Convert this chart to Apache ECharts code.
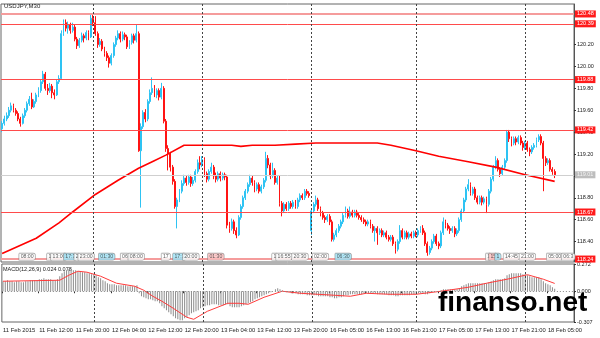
<!DOCTYPE html>
<html><head><meta charset="utf-8">
<script src="https://cdn.jsdelivr.net/npm/echarts@6/dist/echarts.min.js"></script>
<style>html,body{margin:0;padding:0;background:#fff}#c{width:600px;height:338px}</style>
</head><body><div id="c"></div>
<script>
// ---- DATA ----
// candles: [open, close, low, high], USDJPY M30 from 11 Feb 04:00
const candles = [
[119.43,119.48,119.40,119.50],[119.48,119.52,119.46,119.55],[119.52,119.55,119.50,119.58],[119.55,119.60,119.53,119.63],
[119.60,119.64,119.58,119.67],[119.64,119.60,119.58,119.66],[119.60,119.57,119.55,119.62],[119.57,119.52,119.50,119.59],
[119.52,119.48,119.45,119.54],[119.48,119.55,119.47,119.57],[119.55,119.60,119.53,119.62],[119.60,119.66,119.58,119.68],
[119.66,119.70,119.64,119.73],[119.70,119.63,119.61,119.76],[119.63,119.68,119.62,119.70],[119.68,119.74,119.66,119.76],
[119.74,119.78,119.72,119.81],[119.78,119.86,119.76,119.88],[119.86,119.93,119.84,119.96],[119.93,119.80,119.78,119.95],
[119.80,119.78,119.74,119.84],[119.78,119.82,119.76,119.85],[119.82,119.76,119.71,119.84],[119.76,119.74,119.70,119.79],
[119.74,119.86,119.73,119.88],[119.86,119.89,119.84,119.92],[119.89,120.30,119.88,120.33],[120.30,120.40,120.28,120.43],
[120.40,120.35,120.32,120.43],[120.35,120.38,120.30,120.41],[120.38,120.33,120.30,120.40],[120.33,120.36,120.31,120.40],
[120.36,120.25,120.23,120.38],[120.25,120.19,120.16,120.27],[120.19,120.24,120.17,120.26],[120.24,120.28,120.22,120.31],
[120.28,120.26,120.22,120.30],[120.26,120.31,120.24,120.33],[120.31,120.27,120.24,120.33],[120.27,120.44,120.26,120.48],
[120.44,120.40,120.37,120.48],[120.40,120.30,120.28,120.46],[120.30,120.20,120.17,120.32],[120.20,120.23,120.18,120.26],
[120.23,120.16,120.14,120.25],[120.16,120.12,120.09,120.18],[120.12,120.08,120.05,120.14],[120.08,120.03,119.99,120.10],
[120.03,120.10,120.01,120.12],[120.10,120.20,120.08,120.22],[120.20,120.26,120.18,120.28],[120.26,120.30,120.24,120.33],
[120.30,120.25,120.22,120.32],[120.25,120.29,120.23,120.32],[120.29,120.27,120.24,120.31],[120.27,120.18,120.16,120.29],
[120.18,120.22,120.16,120.24],[120.22,120.28,120.20,120.30],[120.28,120.24,120.21,120.30],[120.24,120.30,120.22,120.38],
[120.30,119.23,119.22,120.32],[119.23,119.45,118.71,119.48],[119.45,119.58,119.43,119.60],[119.58,119.52,119.49,119.61],
[119.52,119.68,119.50,119.70],[119.68,119.76,119.66,119.79],[119.76,119.80,119.74,119.90],[119.80,119.74,119.72,119.83],
[119.74,119.78,119.71,119.80],[119.78,119.72,119.69,119.80],[119.72,119.80,119.70,119.85],[119.80,119.50,119.48,119.82],
[119.50,119.25,119.22,119.52],[119.25,119.20,119.05,119.28],[119.20,119.08,119.04,119.22],[119.08,118.95,118.92,119.10],
[118.95,118.72,118.70,118.97],[118.72,118.78,118.52,118.80],[118.78,118.86,118.76,118.88],[118.86,118.93,118.84,118.96],
[118.93,118.98,118.91,119.01],[118.98,118.94,118.91,119.00],[118.94,118.99,118.92,119.01],[118.99,118.93,118.90,119.01],
[118.93,118.96,118.91,118.99],[118.96,119.04,118.94,119.06],[119.04,119.12,119.02,119.15],[119.12,119.10,119.06,119.18],
[119.10,119.15,119.08,119.18],[119.15,119.02,118.99,119.17],[119.02,118.97,118.94,119.04],[118.97,119.04,118.95,119.06],
[119.04,119.08,119.02,119.12],[119.08,119.00,118.97,119.10],[119.00,118.97,118.94,119.03],[118.97,119.02,118.95,119.04],
[119.02,118.98,118.95,119.04],[118.98,119.01,118.96,119.03],[119.01,118.99,118.96,119.03],[118.99,118.55,118.52,119.01],
[118.55,118.52,118.48,118.58],[118.52,118.58,118.50,118.61],[118.58,118.50,118.47,118.60],[118.50,118.46,118.43,118.53],
[118.46,118.62,118.45,118.64],[118.62,118.72,118.60,118.74],[118.72,118.80,118.70,118.82],[118.80,118.86,118.78,118.88],
[118.86,118.92,118.84,118.94],[118.92,118.98,118.90,119.01],[118.98,118.94,118.91,119.00],[118.94,118.88,118.85,118.96],
[118.88,118.92,118.86,118.94],[118.92,118.86,118.84,118.94],[118.86,118.90,118.84,118.92],[118.90,118.96,118.88,118.98],
[118.96,119.16,118.94,119.22],[119.16,119.10,119.07,119.19],[119.10,119.00,118.97,119.12],[119.00,119.05,118.98,119.12],
[119.05,118.94,118.92,119.07],[118.94,118.98,118.92,119.00],[118.98,118.75,118.72,119.00],[118.75,118.68,118.63,118.77],
[118.68,118.74,118.66,118.76],[118.74,118.70,118.68,118.76],[118.70,118.75,118.68,118.77],[118.75,118.72,118.70,118.77],
[118.72,118.76,118.70,118.78],[118.76,118.72,118.70,118.78],[118.72,118.78,118.70,118.80],[118.78,118.82,118.76,118.84],
[118.82,118.80,118.78,118.84],[118.80,118.86,118.78,118.88],[118.86,118.84,118.82,118.88],[118.84,118.82,118.80,118.86],
[118.50,118.68,118.46,118.70],[118.68,118.74,118.66,118.76],[118.74,118.78,118.72,118.82],[118.78,118.70,118.68,118.80],
[118.70,118.66,118.63,118.72],[118.66,118.62,118.60,118.68],[118.62,118.60,118.57,118.64],[118.60,118.63,118.58,118.65],
[118.63,118.58,118.55,118.65],[118.58,118.42,118.40,118.60],[118.42,118.46,118.40,118.48],[118.46,118.50,118.44,118.52],
[118.50,118.54,118.48,118.56],[118.54,118.58,118.52,118.60],[118.58,118.64,118.56,118.66],[118.64,118.68,118.62,118.72],
[118.68,118.63,118.61,118.70],[118.63,118.67,118.61,118.72],[118.67,118.64,118.62,118.69],[118.64,118.67,118.62,118.69],
[118.67,118.64,118.62,118.69],[118.64,118.62,118.60,118.66],[118.62,118.60,118.58,118.64],[118.60,118.58,118.56,118.62],
[118.58,118.56,118.54,118.60],[118.56,118.58,118.54,118.60],[118.58,118.54,118.52,118.60],[118.54,118.50,118.48,118.56],
[118.50,118.52,118.40,118.54],[118.52,118.48,118.37,118.54],[118.48,118.50,118.46,118.52],[118.50,118.46,118.44,118.52],
[118.46,118.48,118.44,118.50],[118.48,118.44,118.42,118.50],[118.44,118.42,118.40,118.46],[118.42,118.44,118.40,118.46],
[118.44,118.38,118.36,118.46],[118.38,118.33,118.29,118.40],[118.33,118.40,118.31,118.42],[118.40,118.50,118.38,118.55],
[118.50,118.44,118.42,118.52],[118.44,118.48,118.42,118.50],[118.48,118.44,118.42,118.50],[118.44,118.47,118.42,118.49],
[118.47,118.45,118.43,118.49],[118.45,118.48,118.43,118.50],[118.48,118.46,118.44,118.50],[118.46,118.50,118.44,118.52],
[118.50,118.52,118.48,118.54],[118.52,118.48,118.46,118.55],[118.48,118.38,118.36,118.50],[118.38,118.30,118.27,118.40],
[118.30,118.34,118.28,118.36],[118.34,118.40,118.32,118.42],[118.40,118.45,118.38,118.47],[118.45,118.38,118.36,118.47],
[118.38,118.36,118.33,118.40],[118.36,118.48,118.34,118.50],[118.48,118.58,118.46,118.62],[118.58,118.55,118.52,118.60],
[118.55,118.52,118.50,118.57],[118.52,118.50,118.47,118.54],[118.50,118.52,118.48,118.54],[118.52,118.47,118.44,118.54],
[118.47,118.50,118.45,118.52],[118.50,118.60,118.48,118.62],[118.60,118.68,118.58,118.70],[118.68,118.78,118.66,118.80],
[118.78,118.88,118.76,118.90],[118.88,118.92,118.86,118.97],[118.92,118.84,118.82,118.94],[118.84,118.88,118.82,118.90],
[118.88,118.80,118.78,118.90],[118.80,118.76,118.74,118.82],[118.76,118.80,118.74,118.82],[118.80,118.76,118.73,118.82],
[118.76,118.79,118.74,118.81],[118.79,118.74,118.66,118.81],[118.74,118.86,118.72,118.88],[118.86,118.97,118.84,118.99],
[118.97,119.08,118.95,119.10],[119.08,119.14,119.06,119.18],[119.14,119.06,119.04,119.16],[119.06,119.02,118.99,119.08],
[119.02,119.08,119.00,119.10],[119.08,119.14,119.06,119.16],[119.14,119.40,119.12,119.42],[119.40,119.34,119.31,119.42],
[119.34,119.30,119.27,119.36],[119.30,119.34,119.28,119.36],[119.34,119.31,119.28,119.36],[119.31,119.35,119.29,119.37],
[119.35,119.30,119.28,119.37],[119.30,119.26,119.23,119.32],[119.26,119.30,119.24,119.32],[119.30,119.24,119.22,119.32],
[119.24,119.22,119.18,119.26],[119.22,119.26,119.20,119.28],[119.26,119.28,119.24,119.30],[119.28,119.33,119.26,119.35],
[119.33,119.36,119.31,119.38],[119.36,119.30,119.28,119.38],[119.30,119.16,118.86,119.32],[119.16,119.12,119.09,119.18],
[119.12,119.14,119.10,119.16],[119.14,119.06,119.04,119.16],[119.06,119.04,119.01,119.08],[119.04,119.01,118.98,119.06]
];
// moving average (red) read at bar indices
const maIdx = [0,15,25,31,41,51,60,66,72,80,90,101,105,110,120,129,138,154,165,171,182,192,205,217,230,243];
const maVal = [118.29,118.43,118.57,118.67,118.83,118.96,119.07,119.13,119.19,119.28,119.28,119.28,119.27,119.28,119.28,119.29,119.30,119.30,119.30,119.28,119.23,119.18,119.13,119.08,119.01,118.95];
// MACD main (histogram), one per bar
const macd = [
0.10,0.10,0.11,0.10,0.10,0.09,0.10,0.10,0.09,0.09,
0.10,0.10,0.11,0.11,0.11,0.11,0.12,0.12,0.13,0.12,
0.12,0.12,0.11,0.11,0.12,
0.15,0.18,0.20,0.21,0.22,0.22,0.21,
0.21,0.20,0.20,0.19,0.19,0.18,0.18,0.17,0.17,0.16,0.14,0.13,
0.11,0.10,0.08,0.07,0.07,
0.07,0.06,0.06,0.06,0.06,0.06,0.05,0.05,0.05,0.05,0.06,
-0.02,-0.05,-0.06,-0.07,-0.08,-0.08,-0.09,-0.10,-0.10,
-0.12,-0.15,-0.17,-0.19,-0.21,-0.23,-0.25,-0.27,-0.28,-0.29,-0.29,
-0.27,-0.26,-0.24,-0.22,-0.21,-0.20,-0.19,-0.17,
-0.16,-0.15,-0.14,-0.14,-0.13,-0.13,-0.13,-0.14,-0.14,-0.14,-0.13,-0.13,-0.15,-0.16,
-0.16,-0.16,-0.16,-0.15,-0.14,-0.13,-0.12,
-0.11,-0.10,-0.08,-0.07,-0.06,-0.05,-0.04,-0.03,-0.02,
-0.01,0.00,0.02,0.03,0.02,0.01,0.00,-0.01,-0.01,-0.02,-0.02,-0.02,-0.03,-0.03,
-0.03,-0.03,-0.04,-0.04,-0.04,-0.04,-0.04,-0.05,-0.05,-0.05,-0.05,-0.05,
-0.06,-0.06,-0.07,-0.07,-0.06,-0.06,-0.05,
-0.04,-0.04,-0.03,-0.03,-0.03,-0.03,-0.03,-0.03,-0.02,
-0.02,-0.02,-0.02,-0.02,-0.02,-0.03,-0.03,-0.03,-0.03,-0.03,-0.04,-0.04,-0.04,
-0.05,-0.05,-0.04,-0.04,-0.04,-0.04,-0.04,-0.03,-0.03,-0.03,
-0.02,-0.02,-0.02,-0.03,-0.03,-0.02,-0.01,0.00,0.00,0.00,0.01,
0.02,0.02,0.02,0.02,0.02,0.02,0.02,0.03,
0.05,0.06,0.07,0.08,0.08,0.08,
0.08,0.08,0.08,0.08,0.08,0.08,
0.09,0.10,0.11,0.12,0.12,0.12,0.12,0.13,0.16,0.17,
0.18,0.18,0.18,0.18,0.18,0.17,0.17,0.16,
0.15,0.14,0.14,0.14,0.14,0.12,0.10,0.08,0.07,0.06,0.04,0.024
];
// MACD signal read at bar indices
const sigIdx = [0,25,29,33,37,43,50,58,62,66,70,75,81,84,90,99,104,108,115,123,131,146,153,160,170,182,193,205,213,222,231,238,243];
const sigVal = [0.10,0.11,0.16,0.20,0.19,0.15,0.08,0.05,0.01,-0.05,-0.10,-0.17,-0.26,-0.28,-0.20,-0.12,-0.12,-0.13,-0.06,0.00,-0.02,-0.04,-0.05,-0.02,-0.03,-0.03,0.00,0.04,0.08,0.12,0.165,0.12,0.078];
// horizontal levels
const levelVals = [120.48,120.39,119.88,119.42,118.67,118.24];
const bidVal = 119.01;
// price axis ticks
const priceTicks = [118.40,118.60,118.80,119.00,119.20,119.40,119.60,119.80,120.00,120.20];
const macdTicks = [0.272,0.000,-0.307];
// time axis
const timeTickIdx = [0,16,32,48,64,80,96,112,128,144,160,176,192,208,224,240];
const timeTickLabels = ['11 Feb 2015','11 Feb 12:00','11 Feb 20:00','12 Feb 04:00','12 Feb 12:00','12 Feb 20:00','13 Feb 04:00','13 Feb 12:00','13 Feb 20:00','16 Feb 05:00','16 Feb 13:00','16 Feb 21:00','17 Feb 05:00','17 Feb 13:00','17 Feb 21:00','18 Feb 05:00'];
const daySepIdx = [40,88,136,182,230];
// event markers (bar index, text, kind 0 white / 1 cyan / 2 pink)
const evIdx  = [11,21,25,30,33,37,46,54,59,72,78,83,94,120,124,131,140,150,214,216,218,224,231,243,249];
const evText = ['08:00','1','13:00','17:3','2','23:00','01:30','06','08:00','17','17:3','20:00','01:30','1','16:55','20:30','02:00','06:30','1','15','1','14:45','21:00','05:00','06:3'];
const evKind = [0,0,0,1,0,0,1,0,0,0,1,0,2,0,0,0,0,1,0,2,1,0,0,0,0];

// ---- CHART ----
const NCAT = 252;
const cats = []; for (let i = 0; i < NCAT; i++) cats.push(String(i));
const labelAt = {}; timeTickIdx.forEach((k, j) => labelAt[k] = timeTickLabels[j]);
const sparse = (idx, val) => { const a = new Array(candles.length).fill(null); idx.forEach((k, j) => a[k] = val[j]); return a; };
const UP = '#2ec3f3', DN = '#ff1414';
const FONT = 'Liberation Sans';
const bg = ['#ffffff', '#9fe3f7', '#ffc0c0'];

const chart = echarts.init(document.getElementById('c'), null, {renderer: 'canvas'});
chart.setOption({
  animation: false,
  backgroundColor: '#fff',
  textStyle: {fontFamily: FONT},
  grid: [
    {left: 1, right: 26, top: 4, height: 258, show: true, borderColor: '#666', borderWidth: 1},
    {left: 1, right: 26, top: 264, height: 58, show: true, borderColor: '#666', borderWidth: 1}
  ],
  xAxis: [
    {type: 'category', data: cats, gridIndex: 0, boundaryGap: true, axisLine: {show: false}, axisTick: {show: false}, axisLabel: {show: false}, splitLine: {show: false}},
    {type: 'category', data: cats, gridIndex: 1, boundaryGap: true, axisLine: {show: false},
     axisTick: {show: true, interval: (i) => labelAt[i] !== undefined, length: 2, lineStyle: {color: '#333'}},
     axisLabel: {show: true, interval: (i) => labelAt[i] !== undefined, formatter: (v, i) => labelAt[i] || '', fontSize: 5.8, color: '#222', align: 'left', margin: 5},
     splitLine: {show: false}}
  ],
  yAxis: [
    {type: 'value', gridIndex: 0, position: 'right', min: 118.213, max: 120.571, scale: true,
     axisLine: {show: true, lineStyle: {color: '#555'}},
     axisTick: {show: true, customValues: priceTicks, length: 2, lineStyle: {color: '#333'}},
     axisLabel: {show: true, customValues: priceTicks, formatter: v => v.toFixed(2), fontSize: 5.5, color: '#222', margin: 3},
     splitLine: {show: false}},
    {type: 'value', gridIndex: 1, position: 'right', min: -0.307, max: 0.272,
     axisLine: {show: true, lineStyle: {color: '#555'}},
     axisTick: {show: true, customValues: macdTicks, length: 2, lineStyle: {color: '#333'}},
     axisLabel: {show: true, customValues: macdTicks, formatter: v => v.toFixed(3), fontSize: 5.5, color: '#222', margin: 3},
     splitLine: {show: false}}
  ],
  series: [
    {type: 'candlestick', xAxisIndex: 0, yAxisIndex: 0, data: candles, barWidth: 1.4,
     itemStyle: {color: UP, color0: DN, borderColor: UP, borderColor0: DN, borderWidth: 1},
     markLine: {silent: true, symbol: 'none', animation: false,
       data: [
         ...levelVals.map((v, j) => ({yAxis: v, lineStyle: {color: (j === 0 || j === 5) ? '#f59c9c' : '#ff4b4b', width: (j === 0 || j === 5) ? 2 : 1, type: 'solid'},
           label: {show: true, position: 'end', distance: 1, formatter: p => p.value.toFixed(2), color: '#fff', backgroundColor: '#ff1a1a', fontSize: 5.5, padding: [1, 2, 0, 2]}})),
         {yAxis: bidVal, lineStyle: {color: '#cfcfcf', width: 1, type: 'solid'},
           label: {show: true, position: 'end', distance: 1, formatter: p => p.value.toFixed(2), color: '#f4f4f4', backgroundColor: '#bdbdbd', fontSize: 5.5, padding: [1, 2, 0, 2]}},
         ...daySepIdx.map(k => ({xAxis: k, lineStyle: {color: '#444', width: 1, type: [2, 2]}, label: {show: false}}))
       ]}
    },
    {type: 'line', xAxisIndex: 0, yAxisIndex: 0, data: sparse(maIdx, maVal), connectNulls: true, showSymbol: false, symbol: 'none',
     lineStyle: {color: '#ff0000', width: 1.6}, z: 3},
    {type: 'scatter', xAxisIndex: 0, yAxisIndex: 0, symbolSize: 0, z: 5,
     data: evIdx.map((k, j) => ({value: [k, 118.262], label: {backgroundColor: bg[evKind[j]]}, name: evText[j]})),
     label: {show: true, position: 'inside', formatter: p => p.name, fontSize: 5.2, color: '#333', borderColor: '#888', borderWidth: 0.6, borderRadius: [0, 2, 2, 0], padding: [1, 1.5, 0.5, 1.5]}},
    {type: 'bar', xAxisIndex: 1, yAxisIndex: 1, data: macd, barWidth: 1, itemStyle: {color: '#8c8c8c'},
     markLine: {silent: true, symbol: 'none', animation: false,
       data: [
         {yAxis: 0, lineStyle: {color: '#888', width: 1, type: [1, 2]}, label: {show: false}},
         ...daySepIdx.map(k => ({xAxis: k, lineStyle: {color: '#444', width: 1, type: [2, 2]}, label: {show: false}}))
       ]}},
    {type: 'line', xAxisIndex: 1, yAxisIndex: 1, data: sparse(sigIdx, sigVal), connectNulls: true, showSymbol: false, symbol: 'none',
     lineStyle: {color: '#ff3b3b', width: 1}, z: 3}
  ],
  graphic: [
    {type: 'text', left: 4, top: 3, style: {text: 'USDJPY,M30', font: '6px "Liberation Sans"', fill: '#222'}},
    {type: 'text', left: 3, top: 266, style: {text: 'MACD(12,26,9) 0.024 0.078', font: '5.5px "Liberation Sans"', fill: '#222'}},
    {type: 'text', left: 438, top: 289, z: 100, style: {text: 'finanso.net', font: 'bold 28px "Liberation Sans"', fill: '#000'}}
  ]
});
</script>
</body></html>
